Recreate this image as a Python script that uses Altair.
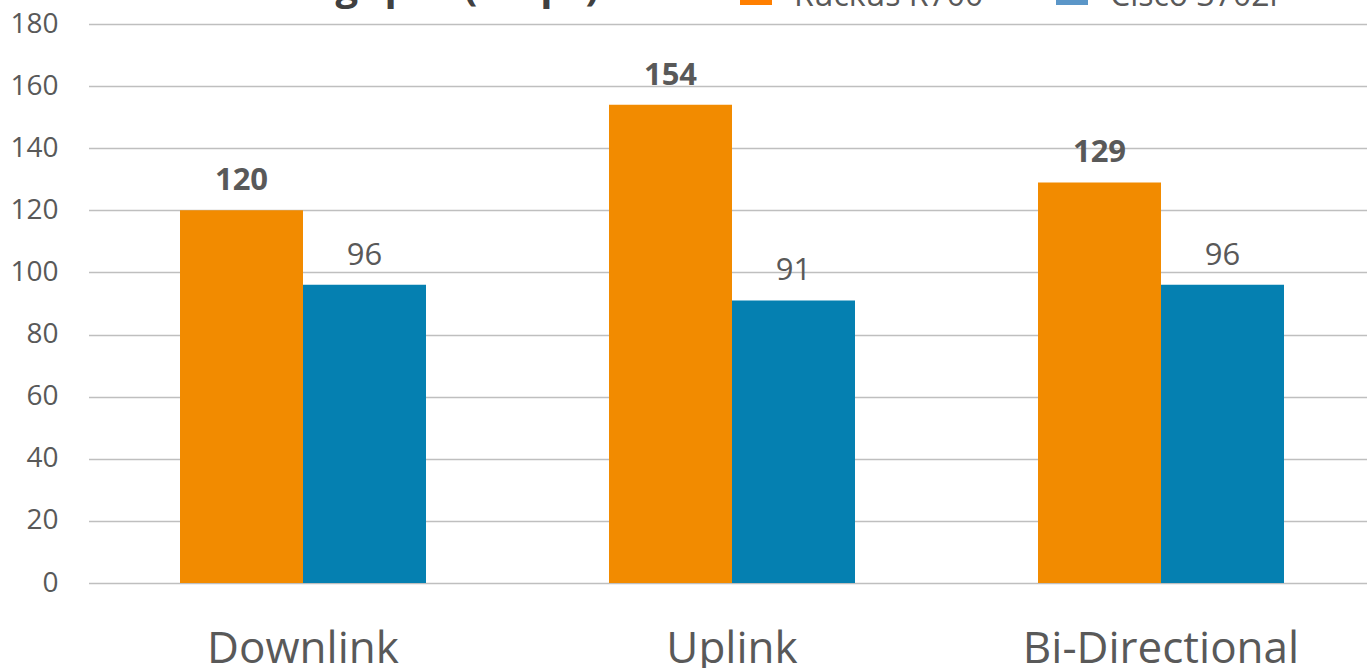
import altair as alt
import pandas as pd

# Throughput per traffic direction for the two access points
categories = ["Downlink", "Uplink", "Bi-Directional"]
series = ["Ruckus R700", "Cisco 3702i"]
ruckus_mbps = [120, 154, 129]
cisco_mbps = [96, 91, 96]
title_text = "Throughput (Mbps)"

bar_colors = ["#F28B00", "#0580B1"]
legend_colors = ["#FF7F00", "#5B96C8"]
text_gray = "#595959"
font = "Open Sans"

rows = []
for cat, r, c in zip(categories, ruckus_mbps, cisco_mbps):
    rows.append({"category": cat, "series": series[0], "value": r})
    rows.append({"category": cat, "series": series[1], "value": c})
df = pd.DataFrame(rows)

x_enc = alt.X(
    "category:N",
    sort=categories,
    scale=alt.Scale(range=[0.5, 1287.5], paddingInner=0.4266, paddingOuter=0.2133),
    axis=alt.Axis(
        title=None, labelAngle=0, domain=False, ticks=False, grid=False,
        labelFont=font, labelFontSize=44, labelColor=text_gray,
        labelBaseline="alphabetic", labelPadding=79, labelLimit=0,
    ),
)
xoff_enc = alt.XOffset("series:N", sort=series,
                       scale=alt.Scale(paddingInner=0, paddingOuter=0))
y_enc = alt.Y(
    "value:Q",
    scale=alt.Scale(domain=[0, 180], nice=False),
    axis=alt.Axis(
        title=None, values=list(range(0, 181, 20)), domain=False, ticks=False,
        grid=True, gridColor="#BFBFBF", gridWidth=1.5,
        labelFont=font, labelFontSize=28, labelColor=text_gray, labelPadding=30,
    ),
)

base = alt.Chart(df).encode(x=x_enc, xOffset=xoff_enc, y=y_enc)

bars = base.mark_bar(size=123).encode(
    color=alt.Color("series:N", sort=series,
                    scale=alt.Scale(domain=series, range=bar_colors), legend=None)
)

labels_ruckus = base.transform_filter(alt.datum.series == series[0]).mark_text(
    baseline="alphabetic", dy=-20, font=font, fontSize=31, fontWeight="bold",
    color=text_gray,
).encode(text=alt.Text("value:Q"))

labels_cisco = base.transform_filter(alt.datum.series == series[1]).mark_text(
    baseline="alphabetic", dy=-20, font=font, fontSize=31, fontWeight="normal",
    color=text_gray,
).encode(text=alt.Text("value:Q"))

title = alt.Chart(pd.DataFrame({"t": [title_text]})).mark_text(
    align="center", baseline="alphabetic", font=font, fontSize=40,
    fontWeight="bold", color="#404040",
).encode(text="t:N", x=alt.value(320), y=alt.value(-24))


def legend_entry(name, color, x0):
    d = pd.DataFrame({"name": [name]})
    swatch = alt.Chart(d).mark_rect(color=color).encode(
        x=alt.value(x0), x2=alt.value(x0 + 32),
        y=alt.value(-53), y2=alt.value(-19),
    )
    label = alt.Chart(d).mark_text(
        align="left", baseline="alphabetic", font=font, fontSize=32,
        color=text_gray,
    ).encode(text="name:N", x=alt.value(x0 + 54), y=alt.value(-18))
    return swatch + label


legend = legend_entry(series[0], legend_colors[0], 652) + legend_entry(
    series[1], legend_colors[1], 968)

chart = alt.layer(bars, labels_ruckus, labels_cisco, title, legend).properties(
    width=1279,
    height=559,
    autosize=alt.AutoSizeParams(type="none"),
    padding={"left": 88, "top": 24, "right": 0, "bottom": 85},
    background="white",
).configure_view(stroke=None)

chart.save("out.html", embed_options={"renderer": "svg", "actions": False})
